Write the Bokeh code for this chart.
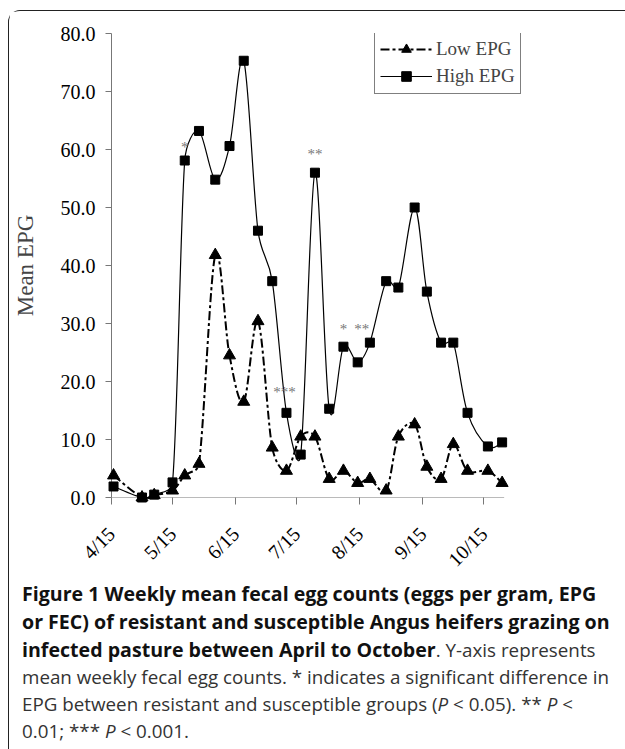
import math
import pandas as pd
from bokeh.plotting import figure
from bokeh.models import (FixedTicker, Legend, LegendItem, Div, Range1d,
                          NumeralTickFormatter, ColumnDataSource)
from bokeh.layouts import column
from bokeh.embed import file_html
from bokeh.resources import INLINE
from bokeh.core.properties import value

# ---------------- data ----------------
sample_dates = ["2009-04-16", "2009-04-30", "2009-05-06", "2009-05-15", "2009-05-21",
                "2009-05-28", "2009-06-05", "2009-06-12", "2009-06-19", "2009-06-26",
                "2009-07-03", "2009-07-10", "2009-07-17", "2009-07-24", "2009-07-31",
                "2009-08-07", "2009-08-14", "2009-08-20", "2009-08-28", "2009-09-03",
                "2009-09-11", "2009-09-17", "2009-09-24", "2009-09-30", "2009-10-07",
                "2009-10-17", "2009-10-24"]
low_epg = [3.8, 0.0, 0.4, 1.2, 3.8, 5.8, 41.8, 24.5, 16.5, 30.4, 8.6, 4.6, 10.5, 10.5,
           3.2, 4.6, 2.5, 3.2, 1.2, 10.5, 12.6, 5.3, 3.2, 9.2, 4.6, 4.6, 2.5]
high_epg = [1.9, 0.0, 0.5, 2.6, 58.1, 63.2, 54.8, 60.6, 75.3, 46.0, 37.3, 14.6, 7.4, 56.0,
            15.3, 26.0, 23.3, 26.7, 37.3, 36.2, 50.0, 35.5, 26.7, 26.7, 14.6, 8.8, 9.5]

tick_dates = ["2009-04-15", "2009-05-15", "2009-06-15", "2009-07-15",
              "2009-08-15", "2009-09-15", "2009-10-15"]
tick_labels = ["4/15", "5/15", "6/15", "7/15", "8/15", "9/15", "10/15"]
y_ticks = [0, 10, 20, 30, 40, 50, 60, 70, 80]

sig_dates = ["2009-05-21", "2009-07-09", "2009-07-24", "2009-08-07", "2009-08-16"]
sig_levels = [60.5, 18.2, 59.3, 29.1, 29.1]
sig_marks = ["*", "***", "**", "*", "**"]

x_start, x_axis_end = "2009-04-15", "2009-10-25"   # extent of the drawn x axis
x_frame_end = "2009-11-04"                         # plot area runs on under the legend
y_start, y_end = 0, 80

FRAME_W, FRAME_H = 413, 464


def ms(d):
    return int(pd.Timestamp(d).value // 10**6)


def smooth_segments(xs, ys, kx, ky):
    """Excel-like smoothed line: Catmull-Rom Bezier arms (1/6), with each arm
    limited to half of its segment length (measured in screen pixels)."""
    px = [xs[0]] + list(xs) + [xs[-1]]
    py = [ys[0]] + list(ys) + [ys[-1]]

    def arm(ax, ay, seg_dx, seg_dy):
        sl = math.hypot(seg_dx * kx, seg_dy * ky)
        al = math.hypot(ax * kx, ay * ky)
        lim = 0.5 * sl
        if al > lim and al > 0:
            f = lim / al
            return ax * f, ay * f
        return ax, ay

    out = dict(x0=[], y0=[], x1=[], y1=[], cx0=[], cy0=[], cx1=[], cy1=[])
    for i in range(len(xs) - 1):
        a, b, c, d = i, i + 1, i + 2, i + 3
        sdx, sdy = px[c] - px[b], py[c] - py[b]
        a1x, a1y = arm((px[c] - px[a]) / 6, (py[c] - py[a]) / 6, sdx, sdy)
        a2x, a2y = arm((px[d] - px[b]) / 6, (py[d] - py[b]) / 6, sdx, sdy)
        out["x0"].append(px[b]); out["y0"].append(py[b])
        out["x1"].append(px[c]); out["y1"].append(py[c])
        out["cx0"].append(px[b] + a1x); out["cy0"].append(py[b] + a1y)
        out["cx1"].append(px[c] - a2x); out["cy1"].append(py[c] - a2y)
    return out


xs = [ms(d) for d in sample_dates]
tick_ms = [ms(d) for d in tick_dates]
kx = FRAME_W / (ms(x_frame_end) - ms(x_start))
ky = FRAME_H / (y_end - y_start)

SERIF = "Liberation Serif"
AXIS_GREY = "#777777"

p = figure(frame_width=FRAME_W, frame_height=FRAME_H,
           x_range=Range1d(ms(x_start), ms(x_frame_end)), y_range=Range1d(y_start, y_end),
           output_backend="svg", toolbar_location=None,
           min_border_left=102, min_border_right=100,
           min_border_top=22, min_border_bottom=82,
           background_fill_color="white", border_fill_color="white")
p.outline_line_color = None
p.xgrid.visible = False
p.ygrid.visible = False

# x axis line (only as long as the date axis)
p.segment(x0=[ms(x_start)], y0=[y_start], x1=[ms(x_axis_end)], y1=[y_start],
          line_color=AXIS_GREY, line_width=1)

# smoothed lines
hi_src = ColumnDataSource(smooth_segments(xs, high_epg, kx, ky))
lo_src = ColumnDataSource(smooth_segments(xs, low_epg, kx, ky))
hi_curve = p.bezier(x0="x0", y0="y0", x1="x1", y1="y1", cx0="cx0", cy0="cy0",
                    cx1="cx1", cy1="cy1", source=hi_src, line_color="black", line_width=1.2)
lo_curve = p.bezier(x0="x0", y0="y0", x1="x1", y1="y1", cx0="cx0", cy0="cy0",
                    cx1="cx1", cy1="cy1", source=lo_src, line_color="black",
                    line_width=2, line_dash="9 3 3 3")
hi_curve.level = "annotation"
lo_curve.level = "annotation"

hi_pts = p.scatter(xs, high_epg, marker="square", size=9, color="black")
lo_pts = p.scatter(xs, low_epg, marker="triangle", size=12, color="black")
hi_pts.level = "annotation"
lo_pts.level = "annotation"

# legend proxies (a single NaN point: nothing drawn in the plot, line shown in legend)
lo_leg_line = p.line([xs[0]], [float("nan")], line_color="black", line_width=2,
                     line_dash="9 3 3 3")
hi_leg_line = p.line([xs[0]], [float("nan")], line_color="black", line_width=1.2)

legend = Legend(items=[LegendItem(label="Low EPG", renderers=[lo_leg_line, lo_pts]),
                       LegendItem(label="High EPG", renderers=[hi_leg_line, hi_pts])],
                location=(263, 403), margin=0, padding=5, spacing=3,
                glyph_width=52, glyph_height=24, label_height=24, label_standoff=4,
                label_text_font=SERIF, label_text_font_size="19px",
                border_line_color="black", border_line_width=1,
                background_fill_color="white", background_fill_alpha=1)
p.add_layout(legend, "center")

# significance marks
sig_src = ColumnDataSource(dict(x=[ms(d) for d in sig_dates], y=sig_levels, t=sig_marks))
sig = p.text(x="x", y="y", text="t", source=sig_src, text_font=value(SERIF),
             text_font_size="15px", text_color="#777777", text_align="center",
             text_baseline="middle")
sig.level = "annotation"

# axes
xa = p.xaxis[0]
xa.ticker = FixedTicker(ticks=tick_ms)
xa.major_label_overrides = {t: lab for t, lab in zip(tick_ms, tick_labels)}
xa.major_label_orientation = 0.785398
xa.major_label_text_font = SERIF
xa.major_label_text_font_size = "20px"
xa.major_label_text_color = "black"
xa.major_label_standoff = 26
xa.major_tick_out = 7
xa.major_tick_in = 0
xa.minor_tick_line_color = None
xa.axis_line_color = None
xa.major_tick_line_color = AXIS_GREY

ya = p.yaxis[0]
ya.ticker = FixedTicker(ticks=y_ticks)
ya.formatter = NumeralTickFormatter(format="0.0")
ya.major_label_text_font = SERIF
ya.major_label_text_font_size = "20px"
ya.major_label_text_color = "black"
ya.major_label_standoff = 10
ya.major_tick_out = 6
ya.major_tick_in = 0
ya.minor_tick_line_color = None
ya.axis_line_color = AXIS_GREY
ya.major_tick_line_color = AXIS_GREY
ya.axis_label = "Mean EPG"
ya.axis_label_text_font = SERIF
ya.axis_label_text_font_size = "23px"
ya.axis_label_text_font_style = "normal"
ya.axis_label_standoff = 20

caption_html = (
    '<div style="font-family:\'Open Sans\';color:#333;line-height:27px;margin-top:-6px;'
    'white-space:nowrap;padding-left:8px;font-size:18.8px;">'
    '<span style="font-weight:bold;font-size:19.6px;color:#111;">'
    'Figure 1 Weekly mean fecal egg counts (eggs per gram, EPG<br>'
    'or FEC) of resistant and susceptible Angus heifers grazing on<br>'
    'infected pasture between April to October</span>. Y-axis represents<br>'
    'mean weekly fecal egg counts. * indicates a significant difference in<br>'
    'EPG between resistant and susceptible groups (<i>P</i> &lt; 0.05). ** <i>P</i> &lt;<br>'
    '0.01; *** <i>P</i> &lt; 0.001.</div>'
)
caption = Div(text=caption_html, width=615, height=162)

layout = column(p, caption, margin=(10, 0, 0, 8),
                styles={"border-left": "1px solid #222", "border-top": "1px solid #222",
                        "border-top-left-radius": "12px"})

open("out.html", "w").write(file_html(layout, INLINE))
